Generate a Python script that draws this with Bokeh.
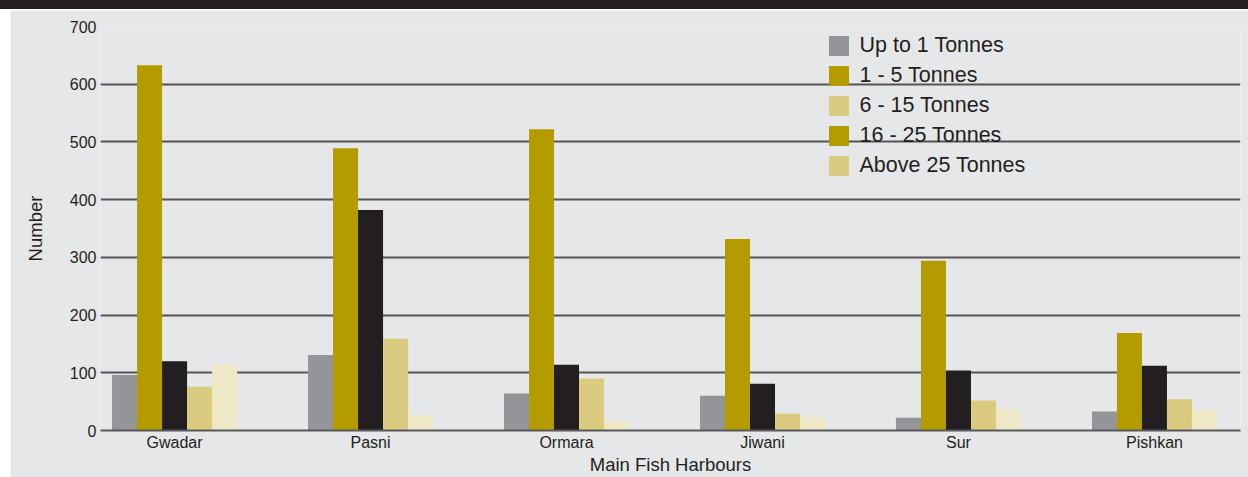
from bokeh.plotting import figure
from bokeh.layouts import column
from bokeh.models import Range1d, FixedTicker, Legend, LegendItem, ColumnDataSource, Div
from bokeh.transform import dodge
from bokeh.embed import file_html
from bokeh.resources import INLINE

# ---- data ----
harbours = ["Gwadar", "Pasni", "Ormara", "Jiwani", "Sur", "Pishkan"]
series_names = ["Up to 1 Tonnes", "1 - 5 Tonnes", "6 - 15 Tonnes", "16 - 25 Tonnes", "Above 25 Tonnes"]
up_to_1 = [96, 131, 64, 60, 22, 33]
t1_5 = [633, 489, 522, 332, 294, 169]
t6_15 = [120, 382, 114, 81, 104, 112]
t16_25 = [76, 159, 90, 29, 52, 54]
above_25 = [113, 27, 17, 24, 36, 36]
y_ticks = [0, 100, 200, 300, 400, 500, 600, 700]

# ---- styles ----
bar_colors = ["#939598", "#b39b00", "#231f20", "#dbcb80", "#efe8c6"]
legend_colors = ["#939598", "#b39b00", "#dbcb80", "#b39b00", "#dbcb80"]
BG = "#e6e7e8"
TXT = "#231f20"
FONT = "Liberation Sans"

src = ColumnDataSource(dict(
    x=list(range(len(harbours))),
    s0=up_to_1, s1=t1_5, s2=t6_15, s3=t16_25, s4=above_25,
))

p = figure(width=1238, height=467, output_backend="svg", toolbar_location=None,
           x_range=Range1d(-0.378, 5.439), y_range=Range1d(0, 700),
           min_border_left=90, min_border_right=8, min_border_top=16, min_border_bottom=46)
p.margin = (1, 0, 0, 10)
p.background_fill_color = BG
p.border_fill_color = BG
p.outline_line_color = None

bw = 0.1276
for j in range(5):
    p.vbar(x=dodge("x", (j - 2) * bw, range=p.x_range), top="s%d" % j, bottom=0,
           width=bw, source=src, fill_color=bar_colors[j], line_color=None)

# legend (swatch colours as drawn in the original chart)
items = []
for j, (name, col) in enumerate(zip(series_names, legend_colors)):
    r = p.vbar(x="x", top="s%d" % j, width=bw, source=src,
               fill_color=col, line_color=None, visible=False)
    items.append(LegendItem(label=name, renderers=[r], index=0))
legend = Legend(items=items, location=(725.5, 252.5), orientation="vertical",
                background_fill_alpha=0, border_line_color=None,
                glyph_width=25, glyph_height=25, label_height=25, spacing=5,
                label_standoff=9, padding=0, margin=0,
                label_text_font=FONT, label_text_font_size="21.5px", label_text_color=TXT)
legend.level = "image"
p.add_layout(legend, "center")

# axes
p.xaxis.ticker = FixedTicker(ticks=list(range(len(harbours))))
p.xaxis.major_label_overrides = {i: h for i, h in enumerate(harbours)}
p.xaxis.axis_label = "Main Fish Harbours"
p.yaxis.ticker = FixedTicker(ticks=y_ticks)
p.yaxis.axis_label = "Number"

for ax in (p.xaxis[0], p.yaxis[0]):
    ax.major_tick_line_color = None
    ax.minor_tick_line_color = None
    ax.major_tick_out = 0
    ax.major_tick_in = 0
    ax.major_label_text_font = FONT
    ax.major_label_text_font_size = "16px"
    ax.major_label_text_color = TXT
    ax.axis_label_text_font = FONT
    ax.axis_label_text_font_size = "18.5px"
    ax.axis_label_text_font_style = "normal"
    ax.axis_label_text_color = TXT

p.yaxis.axis_line_color = None
p.yaxis.major_label_standoff = 4
p.yaxis.axis_label_standoff = 21
p.xaxis.axis_line_color = "#58595b"
p.xaxis.axis_line_width = 2
p.xaxis.major_label_standoff = 3
p.xaxis.axis_label_standoff = 0

p.xgrid.grid_line_color = None
p.ygrid.ticker = FixedTicker(ticks=y_ticks)
p.ygrid.grid_line_color = "#555557"
p.ygrid.grid_line_width = 2

band = Div(text="", width=1248, height=9, margin=0,
           styles={"background-color": "#231f20"})
layout = column(band, p, spacing=0, margin=0)

open("out.html", "w").write(file_html(layout, INLINE))
